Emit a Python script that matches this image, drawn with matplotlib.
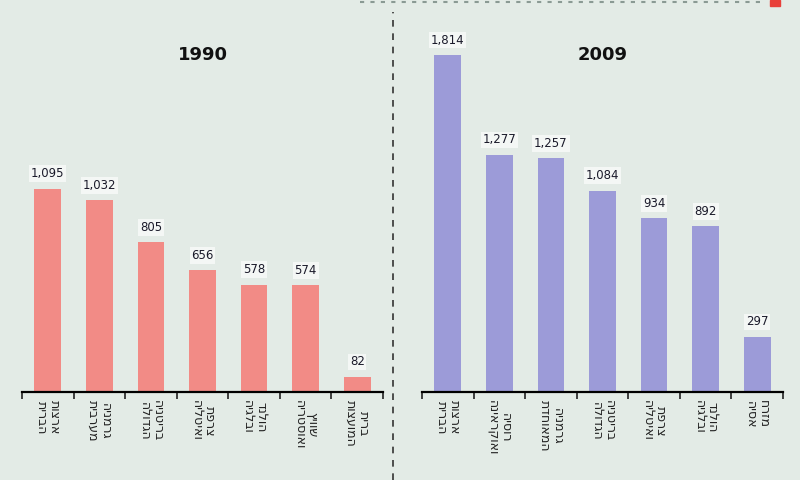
import matplotlib
matplotlib.use("Agg")
import matplotlib.pyplot as plt

# data (labels are illegible in the source, placeholders in Hebrew)
labels_1990 = ["ארצות\nהברית", "גרמניה\nמערבית", "בריטניה\nהגדולה", "צרפת\nואיטליה",
               "הולנד\nובלגיה", "שוויץ\nואוסטריה", "ברית\nהמועצות"]
values_1990 = [1095, 1032, 805, 656, 578, 574, 82]
labels_2009 = ["ארצות\nהברית", "רוסיה\nואוקראינה", "גרמניה\nהמאוחדת", "בריטניה\nהגדולה",
               "צרפת\nואיטליה", "הולנד\nובלגיה", "מזרח\nאסיה"]
values_2009 = [1814, 1277, 1257, 1084, 934, 892, 297]
years = ["1990", "2009"]

bg = "#e3ebe6"
colors = ["#f28b86", "#9c9bd8"]


def visual(s):
    # matplotlib has no bidi support: flip each Hebrew line into visual order
    return "\n".join(line[::-1] for line in s.split("\n"))


fig = plt.figure(figsize=(8, 4.8), dpi=100, facecolor=bg)
ymax = 2056
panels = [(22, 383, labels_1990, values_1990), (422, 783, labels_2009, values_2009)]

for i, (x0, x1, labs, vals) in enumerate(panels):
    ax = fig.add_axes([x0 / 800, 1 - 392 / 480, (x1 - x0) / 800, 382 / 480])
    ax.set_facecolor(bg)
    xs = list(range(len(vals)))
    ax.bar(xs, vals, width=0.52, color=colors[i], zorder=2)
    ax.set_xlim(-0.5, len(vals) - 0.5)
    ax.set_ylim(0, ymax)
    for s in ["top", "right", "left"]:
        ax.spines[s].set_visible(False)
    ax.spines["bottom"].set_linewidth(1.6)
    ax.set_yticks([])
    ax.set_xticks([x - 0.5 for x in range(len(vals) + 1)])
    ax.set_xticklabels([])
    ax.tick_params(axis="x", direction="out", length=5, width=1.2, color="#222222")
    for x, v in zip(xs, vals):
        ax.text(x, v + 45, f"{v:,}", ha="center", va="bottom", fontsize=8.5,
                color="#1a1a2a",
                bbox=dict(boxstyle="square,pad=0.15", fc="#f4f7f5", ec="none"))
    for x, lab in zip(xs, labs):
        ax.text(x, -0.022, visual(lab), transform=ax.get_xaxis_transform(),
                rotation=-90, ha="center", va="top", fontsize=9,
                color="#222222", linespacing=1.0)
    fig.text((x0 + x1) / 2 / 800, 1 - 55 / 480, years[i], ha="center", va="center",
             fontsize=13, fontweight="bold", color="#111111")

# dashed separator between the two panels
fig.add_artist(plt.Line2D([393 / 800, 393 / 800], [0.0, 1 - 12 / 480],
                          transform=fig.transFigure, color="#333333",
                          lw=1.2, ls=(0, (4, 4))))
# cut-off caption line and marker at the top edge
fig.add_artist(plt.Line2D([360 / 800, 765 / 800], [1 - 2 / 480, 1 - 2 / 480],
                          transform=fig.transFigure, color="#8a9a94",
                          lw=1.5, ls=(0, (2, 3))))
fig.add_artist(plt.Rectangle((770 / 800, 1 - 6 / 480), 10 / 800, 6 / 480,
                             transform=fig.transFigure, color="#e8403a"))

fig.savefig("out.png", dpi=100, facecolor=bg)
